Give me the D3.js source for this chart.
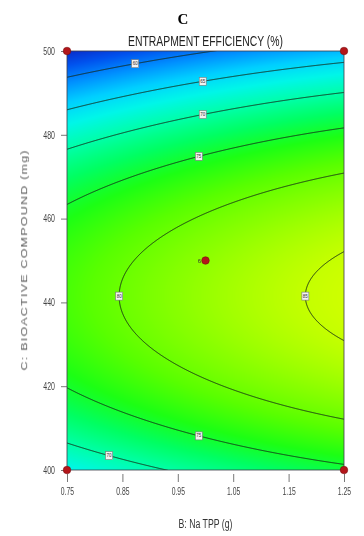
<!DOCTYPE html>
<html>
<head>
<meta charset="utf-8">
<script src="https://cdn.jsdelivr.net/npm/d3@7"></script>
<style>
  body { margin: 0; background: #fff; }
  #wrap { position: relative; width: 364px; height: 536px; }
  #wrap canvas, #wrap svg { position: absolute; left: 0; top: 0; }
</style>
</head>
<body>
<div id="wrap">
  <canvas id="surface" width="364" height="536"></canvas>
  <svg id="chart" width="364" height="536"></svg>
</div>
<script>
// ---- chart text ----
const panelLetter = "C";
const responseTitle = "ENTRAPMENT EFFICIENCY (%)";
const xTitle = "B: Na TPP (g)";
const yTitle = "C: BIOACTIVE COMPOUND (mg)";

// ---- factor ranges and ticks ----
const naTppRange = [0.75, 1.25];
const compoundRange = [400, 500];
const naTppTicks = [0.75, 0.85, 0.95, 1.05, 1.15, 1.25];
const compoundTicks = [400, 420, 440, 460, 480, 500];

// ---- quadratic response model, coded factors (-1..1) ----
// terms: intercept, B, C, B^2, C^2, B*C
const modelCoefficients = [82.12, 3.78, -5.67, -0.63, -16.67, 0];

// ---- contour levels (%) ----
const contourLevels = [60, 65, 70, 75, 80, 85];

// ---- design points ----
const designNaTpp = [0.75, 0.75, 1.25, 1.25, 1.00];
const designCompound = [400, 500, 400, 500, 450];
const designReplicates = [1, 1, 1, 1, 6];

// ---- contour label placement: level, factor held, its value, branch ----
const labelLevels = [60, 65, 70, 75, 80, 85, 75, 70];
const labelFactor = ["B", "B", "B", "B", "C", "C", "B", "B"];
const labelValue = [0.873, 0.995, 0.995, 0.988, 441.5, 441.5, 0.988, 0.826];
const labelBranch = ["upper", "upper", "upper", "upper", "left", "left", "lower", "lower"];

// ---- colour ramp (response value -> colour) ----
const rampValues = [55, 58, 61, 64, 67, 70, 73, 76, 79, 82, 85, 86];
const rampColors = ["#0a26c4", "#0052ee", "#0090ff", "#00cfff", "#00f6e8", "#00ffa8",
                    "#00ff62", "#1cff14", "#58ff00", "#8cff00", "#c4ff00", "#d2ff00"];

// ---- layout ----
const W = 364, H = 536;
const plot = { left: 67, right: 344, top: 51, bottom: 470 };

const x = d3.scaleLinear().domain(naTppRange).range([plot.left, plot.right]);
const y = d3.scaleLinear().domain(compoundRange).range([plot.bottom, plot.top]);
const color = d3.scaleLinear().domain(rampValues).range(rampColors)
  .interpolate(d3.interpolateRgb).clamp(true);

const codeB = b => (b - (naTppRange[0] + naTppRange[1]) / 2) / ((naTppRange[1] - naTppRange[0]) / 2);
const codeC = c => (c - (compoundRange[0] + compoundRange[1]) / 2) / ((compoundRange[1] - compoundRange[0]) / 2);
const decodeB = u => (naTppRange[0] + naTppRange[1]) / 2 + u * (naTppRange[1] - naTppRange[0]) / 2;
const decodeC = v => (compoundRange[0] + compoundRange[1]) / 2 + v * (compoundRange[1] - compoundRange[0]) / 2;

const [k0, kB, kC, kBB, kCC, kBC] = modelCoefficients;
function response(b, c) {
  const u = codeB(b), v = codeC(c);
  return k0 + kB * u + kC * v + kBB * u * u + kCC * v * v + kBC * u * v;
}

// ---- shaded response surface ----
const lutMin = rampValues[0], lutMax = rampValues[rampValues.length - 1], lutN = 1024;
const lut = d3.range(lutN).map(i => d3.rgb(color(lutMin + (lutMax - lutMin) * i / (lutN - 1))));
const ctx = document.getElementById("surface").getContext("2d");
const pw = plot.right - plot.left, ph = plot.bottom - plot.top;
const img = ctx.createImageData(pw, ph);
for (let j = 0; j < ph; j++) {
  const c = y.invert(plot.top + j + 0.5);
  for (let i = 0; i < pw; i++) {
    const f = response(x.invert(plot.left + i + 0.5), c);
    let t = Math.round((f - lutMin) / (lutMax - lutMin) * (lutN - 1));
    t = Math.max(0, Math.min(lutN - 1, t));
    const col = lut[t], p = (j * pw + i) * 4;
    img.data[p] = col.r; img.data[p + 1] = col.g; img.data[p + 2] = col.b; img.data[p + 3] = 255;
  }
}
ctx.putImageData(img, plot.left, plot.top);

// ---- svg overlay ----
const svg = d3.select("#chart");
svg.append("defs").append("clipPath").attr("id", "plot-clip")
  .append("rect").attr("x", plot.left).attr("y", plot.top).attr("width", pw).attr("height", ph);

// contour lines from a sample grid that runs a little past the plot edges
const pad = 3;
const gx0 = plot.left - pad, gy0 = plot.top - pad;
const gw = pw + 2 * pad, gh = ph + 2 * pad;
const grid = new Array(gw * gh);
for (let j = 0; j < gh; j++) {
  const c = y.invert(gy0 + j + 0.5);
  for (let i = 0; i < gw; i++) grid[j * gw + i] = response(x.invert(gx0 + i + 0.5), c);
}
const bands = d3.contours().size([gw, gh]).thresholds(contourLevels)(grid);
const gridPath = d3.geoPath(d3.geoTransform({
  point(px, py) { this.stream.point(gx0 + px, gy0 + py); }
}));
svg.append("g").attr("clip-path", "url(#plot-clip)")
  .selectAll("path").data(bands).join("path")
  .attr("d", gridPath)
  .attr("fill", "none")
  .attr("stroke", "#142816")
  .attr("stroke-width", 1)
  .attr("stroke-opacity", 0.9);

// plot frame
svg.append("rect")
  .attr("x", plot.left).attr("y", plot.top).attr("width", pw).attr("height", ph)
  .attr("fill", "none").attr("stroke", "#3c3c46").attr("stroke-width", 0.8);

// contour labels, placed on the model's own level curves
function solveQuadratic(a, b, c) {
  if (Math.abs(a) < 1e-12) return [-c / b];
  const d = Math.sqrt(Math.max(0, b * b - 4 * a * c));
  return [(-b - d) / (2 * a), (-b + d) / (2 * a)];
}
const labelData = labelLevels.map((L, i) => {
  if (labelFactor[i] === "B") {
    const u = codeB(labelValue[i]);
    const roots = solveQuadratic(kCC, kC + kBC * u, k0 + kB * u + kBB * u * u - L);
    const v = labelBranch[i] === "upper" ? d3.max(roots) : d3.min(roots);
    return { level: L, b: labelValue[i], c: decodeC(v) };
  } else {
    const v = codeC(labelValue[i]);
    const roots = solveQuadratic(kBB, kB + kBC * v, k0 + kC * v + kCC * v * v - L)
      .filter(r => r >= -1 && r <= 1);
    return { level: L, b: decodeB(d3.max(roots)), c: labelValue[i] };
  }
});
const lab = svg.append("g").selectAll("g").data(labelData).join("g")
  .attr("transform", d => `translate(${x(d.b)},${y(d.c)})`);
lab.append("rect").attr("x", -3.5).attr("y", -4).attr("width", 7).attr("height", 8)
  .attr("fill", "#f2f2f2").attr("stroke", "#7a7a7a").attr("stroke-width", 0.6);
lab.append("text").text(d => d.level)
  .attr("text-anchor", "middle").attr("dy", "0.35em")
  .attr("font-family", "Liberation Sans, Arial, sans-serif").attr("font-size", 4.5)
  .attr("fill", "#333");

// axes
const tickFont = "Liberation Sans, Arial, sans-serif";
const xAxis = svg.append("g").attr("transform", `translate(0,${plot.bottom + 4})`)
  .call(d3.axisBottom(x).tickValues(naTppTicks).tickFormat(d3.format(".2f")).tickSize(8).tickPadding(5));
xAxis.select(".domain").remove();
xAxis.selectAll("line").attr("stroke", "#555").attr("stroke-width", 0.8);
xAxis.selectAll("text").attr("font-family", tickFont).attr("font-size", 11)
  .attr("fill", "#444").attr("transform", "scale(0.62,1)");

const yAxis = svg.append("g").attr("transform", `translate(${plot.left},0)`)
  .call(d3.axisLeft(y).tickValues(compoundTicks).tickFormat(d3.format("d")).tickSize(6).tickPadding(0));
yAxis.select(".domain").remove();
yAxis.selectAll("line").attr("stroke", "#555").attr("stroke-width", 0.8);
yAxis.selectAll("text").attr("font-family", tickFont).attr("font-size", 10)
  .attr("fill", "#444").attr("x", 0).attr("transform", "translate(-12,0) scale(0.7,1)");

// design points
const designData = designNaTpp.map((b, i) => ({ b, c: designCompound[i], n: designReplicates[i] }));
svg.append("g").selectAll("circle").data(designData).join("circle")
  .attr("cx", d => x(d.b)).attr("cy", d => y(d.c)).attr("r", 3.8)
  .attr("fill", "#b3161a").attr("stroke", "#6e0a0c").attr("stroke-width", 0.5);
svg.append("g").selectAll("text").data(designData.filter(d => d.n > 1)).join("text")
  .attr("x", d => x(d.b) - 6).attr("y", d => y(d.c) + 2)
  .attr("text-anchor", "middle").attr("font-family", tickFont).attr("font-size", 6)
  .attr("fill", "#333").text(d => d.n);

// titles
svg.append("text").attr("x", 183).attr("y", 23.5).attr("text-anchor", "middle")
  .attr("font-family", "Liberation Serif, 'DejaVu Serif', serif").attr("font-weight", "bold")
  .attr("font-size", 15).attr("fill", "#000").text(panelLetter);

svg.append("text").attr("x", 205.5).attr("y", 45.5).attr("text-anchor", "middle")
  .attr("font-family", tickFont).attr("font-size", 15).attr("fill", "#222")
  .attr("textLength", 155).attr("lengthAdjust", "spacingAndGlyphs").text(responseTitle);

svg.append("text").attr("x", 205.5).attr("y", 528).attr("text-anchor", "middle")
  .attr("font-family", tickFont).attr("font-size", 12).attr("fill", "#333")
  .attr("textLength", 54).attr("lengthAdjust", "spacingAndGlyphs").text(xTitle);

svg.append("text")
  .attr("transform", `translate(27,${(plot.top + plot.bottom) / 2}) rotate(-90) scale(1,0.74)`)
  .attr("text-anchor", "middle")
  .attr("font-family", tickFont).attr("font-size", 12.5).attr("fill", "#5a5a5a")
  .attr("textLength", 220).attr("lengthAdjust", "spacing").text(yTitle);
</script>
</body>
</html>
